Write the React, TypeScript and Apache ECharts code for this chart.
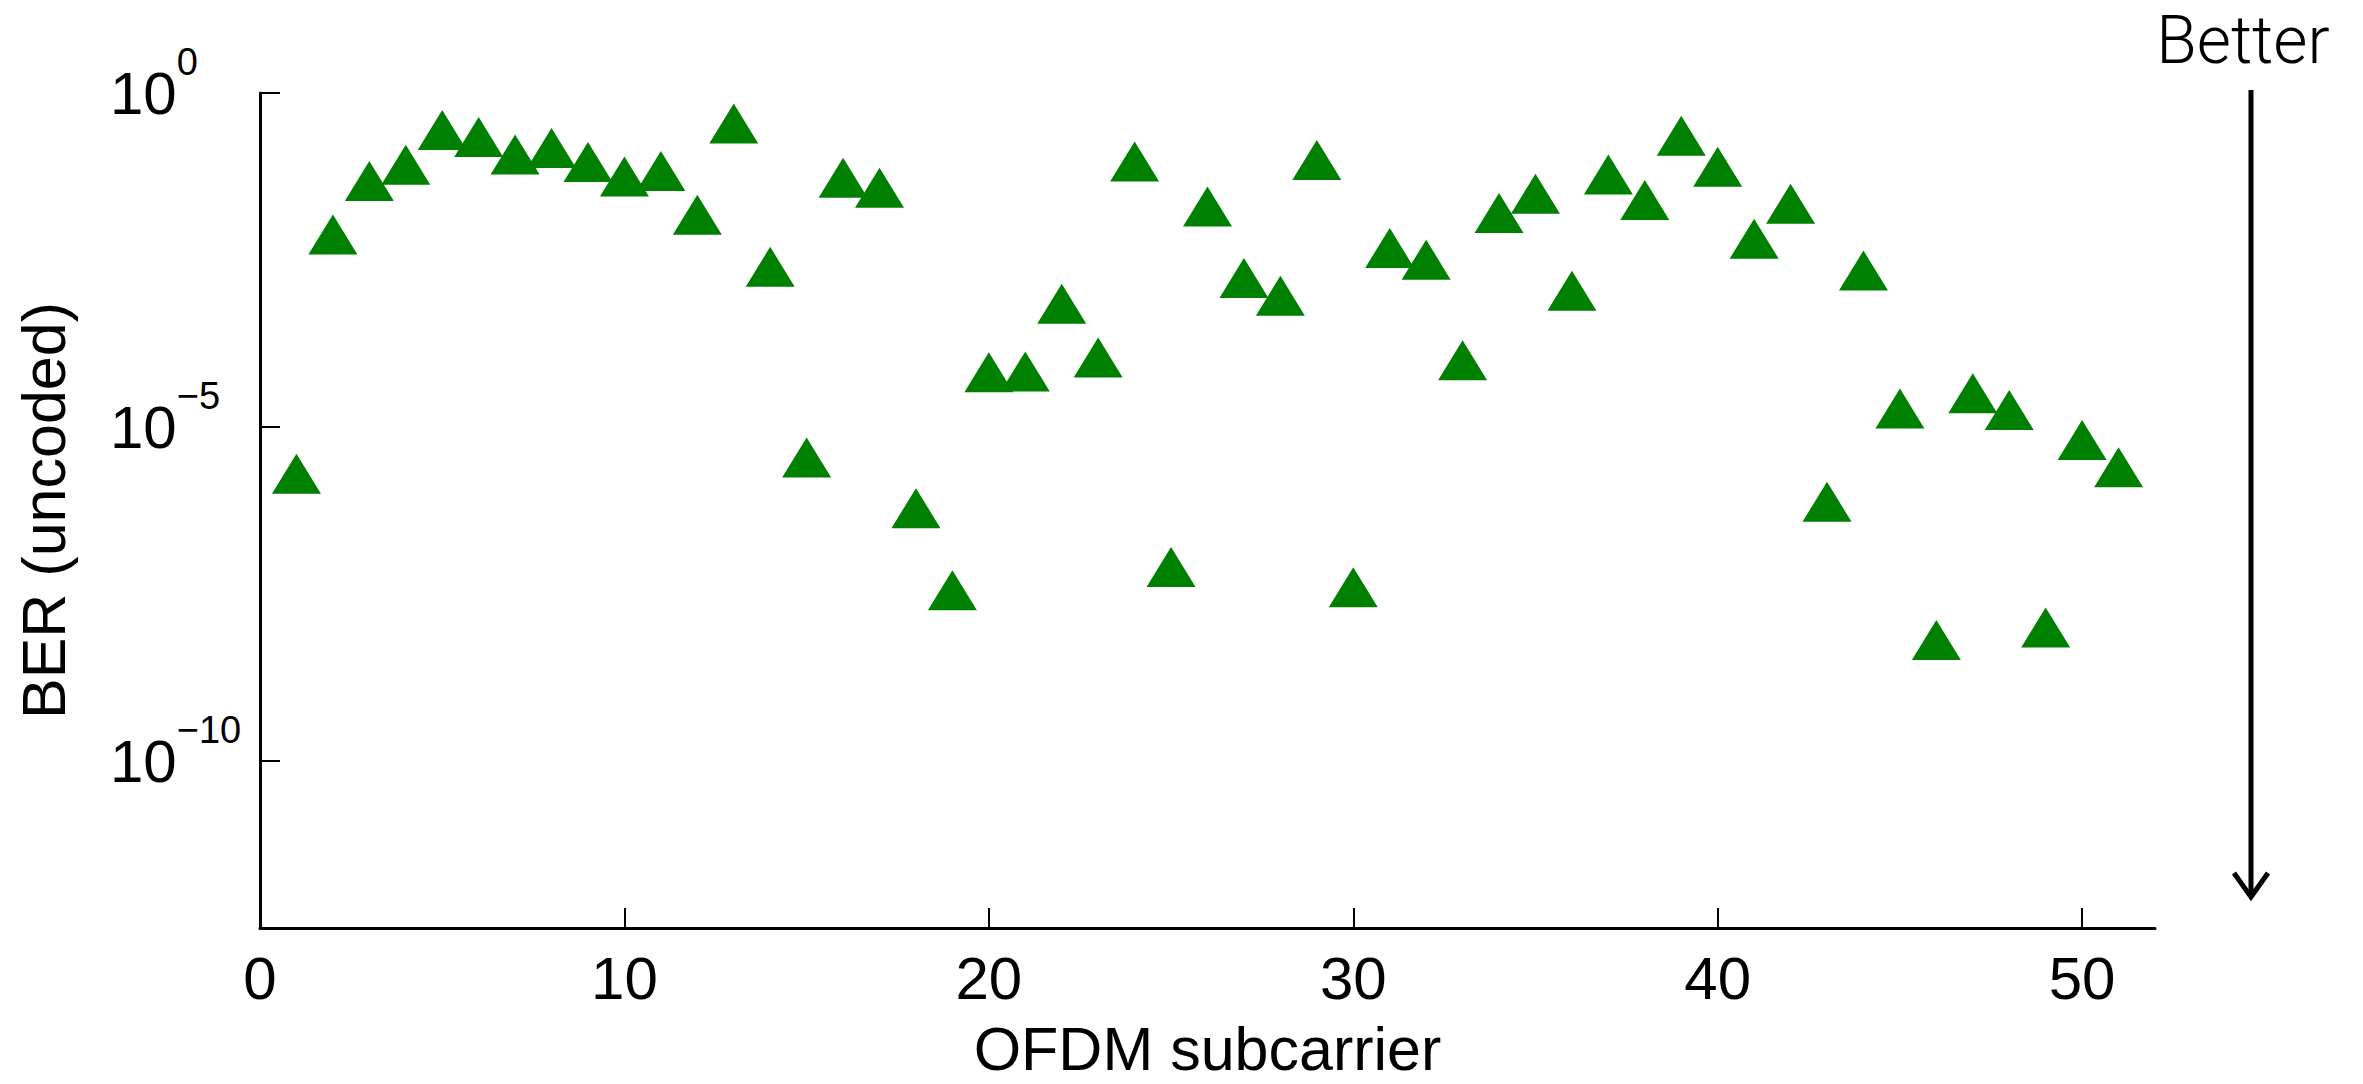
import React, { useEffect, useRef } from "react";
import * as echarts from "echarts";

const subcarriers = [
  1, 2, 3, 4, 5, 6, 7, 8, 9, 10, 11, 12, 13, 14, 15, 16, 17, 18, 19, 20,
  21, 22, 23, 24, 25, 26, 27, 28, 29, 30, 31, 32, 33, 34, 35, 36, 37, 38, 39, 40,
  41, 42, 43, 44, 45, 46, 47, 48, 49, 50, 51,
];

const berUncoded = [
  2.0e-6, 7.6e-3, 4.8e-2, 8.4e-2, 2.8e-1, 2.2e-1, 1.2e-1, 1.5e-1, 9.3e-2, 5.6e-2,
  6.8e-2, 1.5e-2, 3.5e-1, 2.5e-3, 3.5e-6, 5.4e-2, 3.8e-2, 6.1e-7, 3.6e-8, 6.6e-5,
  6.8e-5, 7.0e-4, 1.1e-4, 9.4e-2, 8.0e-8, 2.0e-2, 1.7e-3, 9.2e-4, 9.9e-2, 4.0e-8,
  4.8e-3, 3.2e-3, 1.0e-4, 1.6e-2, 3.1e-2, 1.1e-3, 6.0e-2, 2.5e-2, 2.3e-1, 7.9e-2,
  6.6e-3, 2.2e-2, 7.6e-7, 2.2e-3, 1.9e-5, 6.5e-9, 3.2e-5, 1.8e-5, 1.0e-8, 6.4e-6,
  2.5e-6,
];

const xTickValues = [0, 10, 20, 30, 40, 50];
const yTickValues = [1e-10, 1e-5, 1];
const xAxisTitle = "OFDM subcarrier";
const yAxisTitle = "BER (uncoded)";
const annotationText = "Better";

const FONT = "'Liberation Sans', Arial, Helvetica, sans-serif";

export default function App() {
  const ref = useRef<HTMLDivElement>(null);

  useEffect(() => {
    if (!ref.current) return;
    const chart = echarts.init(ref.current, null, { renderer: "svg" });
    chart.setOption({
      animation: false,
      backgroundColor: "#ffffff",
      textStyle: { fontFamily: FONT, color: "#000" },
      grid: { left: 260, right: 208, top: 93, bottom: 153, containLabel: false },
      xAxis: {
        type: "value",
        min: 0,
        max: 52,
        axisLine: { show: true, lineStyle: { color: "#000", width: 3 } },
        axisTick: {
          show: true,
          inside: true,
          length: 20,
          customValues: xTickValues,
          lineStyle: { color: "#000", width: 2 },
        },
        axisLabel: {
          customValues: xTickValues,
          fontSize: 60,
          color: "#000",
          fontFamily: FONT,
          margin: 20,
        },
        splitLine: { show: false },
        name: xAxisTitle,
        nameLocation: "middle",
        nameGap: 90,
        nameTextStyle: { fontSize: 61, color: "#000", fontFamily: FONT },
      },
      yAxis: {
        type: "log",
        logBase: 10,
        min: Math.pow(10, -12.5),
        max: 1,
        axisLine: { show: true, lineStyle: { color: "#000", width: 3 } },
        axisTick: {
          show: true,
          inside: true,
          length: 20,
          customValues: yTickValues,
          lineStyle: { color: "#000", width: 2 },
        },
        axisLabel: {
          customValues: yTickValues,
          align: "left",
          margin: 150,
          formatter: (v: number) => {
            const e = Math.round(Math.log10(v));
            const exp = e === 0 ? "0" : "\u2212" + String(-e);
            return "{b|10}{s|" + exp + "}";
          },
          rich: {
            b: { fontSize: 60, color: "#000", fontFamily: FONT, lineHeight: 100, verticalAlign: "middle" },
            s: { fontSize: 38, color: "#000", fontFamily: FONT, lineHeight: 38, verticalAlign: "top" },
          },
        },
        splitLine: { show: false },
        name: yAxisTitle,
        nameLocation: "middle",
        nameGap: 186,
        nameRotate: 90,
        nameTextStyle: { fontSize: 61, color: "#000", fontFamily: FONT },
      },
      series: [
        {
          type: "scatter",
          data: subcarriers.map((x, i) => [x, berUncoded[i]]),
          symbol: "triangle",
          symbolSize: [49, 40],
          itemStyle: { color: "#008000", opacity: 1 },
        },
      ],
      graphic: [
        {
          type: "text",
          x: 2243,
          y: 40,
          style: {
            text: annotationText,
            align: "center",
            verticalAlign: "middle",
            font: "300 66px Roboto, 'Liberation Sans', sans-serif",
            fill: "#000",
          },
        },
        {
          type: "line",
          shape: { x1: 2251, y1: 90, x2: 2251, y2: 895 },
          style: { stroke: "#000", lineWidth: 5 },
        },
        {
          type: "polyline",
          shape: { points: [[2234, 873], [2251, 897], [2268, 873]] },
          style: { stroke: "#000", lineWidth: 5, fill: null },
        },
      ],
    });
    return () => chart.dispose();
  }, []);

  return (
    <div
      ref={ref}
      style={{ position: "fixed", left: 0, top: 0, width: 2363, height: 1084 }}
    />
  );
}
